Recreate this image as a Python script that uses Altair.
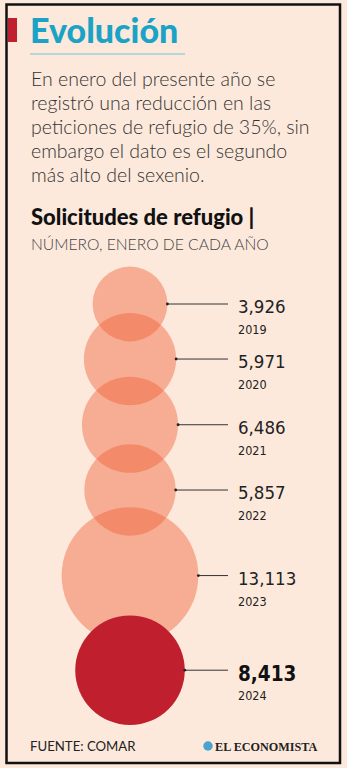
import altair as alt
import pandas as pd
import numpy as np

# ---- data ----
years = ["2019", "2020", "2021", "2022", "2023", "2024"]
values = [3926, 5971, 6486, 5857, 13113, 8413]
value_labels = ["3,926", "5,971", "6,486", "5,857", "13,113", "8,413"]
highlight = ["previo", "previo", "previo", "previo", "previo", "actual"]

title_text = "Evolución"
body_lines = [
    "En enero del presente año se",
    "registró una reducción en las",
    "peticiones de refugio de 35%, sin",
    "embargo el dato es el segundo",
    "más alto del sexenio.",
]
chart_title = "Solicitudes de refugio |"
chart_subtitle = "NÚMERO, ENERO DE CADA AÑO"
source_text = "FUENTE: COMAR"
brand_text = "EL ECONOMISTA"

# ---- layout ----
W, H = 347, 768
K = 0.597        # px per sqrt(unit): circle area proportional to value
OVERLAP = 28.5   # px overlap between consecutive circles
CX = 130
TOP = 304
BG = "#fde9dc"
COND = "DejaVu Sans Condensed, DejaVu Sans, sans-serif"
SANS = "Lato, Open Sans, sans-serif"

r = [K * np.sqrt(v) for v in values]
cy = [TOP]
for i in range(1, len(values)):
    cy.append(cy[-1] + r[i - 1] + r[i] - OVERLAP)

df = pd.DataFrame({
    "year": years,
    "value": values,
    "label": value_labels,
    "hl": highlight,
    "cy": cy,
    "edge": [CX + ri for ri in r],
})
dummy = pd.DataFrame({"a": [0]})

xs = alt.Scale(domain=[0, W], range=[0, W])
ys = alt.Scale(domain=[0, H], range=[0, H])
vmax = max(values)
size_scale = alt.Scale(type="linear", domain=[0, vmax], range=[0, (2 * K) ** 2 * vmax])

base = alt.Chart(df)

circles = base.mark_circle(strokeWidth=0).encode(
    x=alt.value(CX),
    y=alt.Y("cy:Q", scale=ys, axis=None),
    size=alt.Size("value:Q", scale=size_scale, legend=None),
    color=alt.Color("hl:N", scale=alt.Scale(domain=["previo", "actual"], range=["#ee6035", "#c0202e"]), legend=None),
    opacity=alt.Opacity("hl:N", scale=alt.Scale(domain=["previo", "actual"], range=[0.43, 1.0]), legend=None),
)

leaders = base.mark_rule(color="#333333", strokeWidth=1).encode(
    x=alt.X("edge:Q", scale=xs, axis=None),
    x2=alt.value(228),
    y=alt.Y("cy:Q", scale=ys, axis=None),
)

dots = base.mark_circle(size=8, color="#222222", opacity=1).encode(
    x=alt.X("edge:Q", scale=xs, axis=None),
    y=alt.Y("cy:Q", scale=ys, axis=None),
)

val_prev = base.transform_filter(alt.datum.hl == "previo").mark_text(
    align="left", baseline="alphabetic", font=COND, fontSize=18.5, color="#222222", dy=9
).encode(x=alt.value(238), y=alt.Y("cy:Q", scale=ys, axis=None), text="label:N")

val_cur = base.transform_filter(alt.datum.hl == "actual").mark_text(
    align="left", baseline="alphabetic", font=COND, fontSize=20.5, fontWeight="bold", color="#111111", dy=11
).encode(x=alt.value(238), y=alt.Y("cy:Q", scale=ys, axis=None), text="label:N")

year_txt = base.mark_text(
    align="left", baseline="alphabetic", font=COND, fontSize=12.5, color="#222222", dy=30
).encode(x=alt.value(238), y=alt.Y("cy:Q", scale=ys, axis=None), text="year:N")


def txt(s, x, y, **kw):
    return alt.Chart(dummy).mark_text(align="left", baseline="alphabetic", **kw).encode(
        x=alt.value(x), y=alt.value(y), text=alt.value(s)
    )


frame = alt.Chart(dummy).mark_rect(fillOpacity=0, stroke="#111111", strokeWidth=2.5).encode(
    x=alt.value(6.5), x2=alt.value(340), y=alt.value(4.5), y2=alt.value(763)
)
accent = alt.Chart(dummy).mark_rect(color="#c0202e").encode(
    x=alt.value(8), x2=alt.value(17), y=alt.value(18), y2=alt.value(42)
)
underline = alt.Chart(dummy).mark_rule(color="#6fc3d6", strokeWidth=1).encode(
    x=alt.value(30), x2=alt.value(185), y=alt.value(54)
)
title = txt(title_text, 30, 43, font=SANS, fontSize=34, fontWeight=900, color="#1ba3c6")
body = txt(body_lines, 31, 86, font=SANS, fontSize=19.5, fontWeight=300, color="#333333", lineHeight=24)
ctitle = txt(chart_title, 31, 225, font=SANS, fontSize=22, fontWeight=900, color="#111111")
csub = txt(chart_subtitle, 31, 250, font=SANS, fontSize=15.7, fontWeight=300, color="#444444")
source = txt(source_text, 30, 751, font=SANS, fontSize=13.2, color="#222222")
globe = alt.Chart(dummy).mark_circle(size=90, color="#4aa3cf", opacity=1).encode(
    x=alt.value(208), y=alt.value(746)
)
brand = txt(brand_text, 215, 751, font="Liberation Serif, DejaVu Serif, serif", fontSize=12.2,
            fontWeight="bold", color="#222222")

chart = alt.layer(
    accent, frame, underline, title, body, ctitle, csub,
    circles, leaders, dots, val_prev, val_cur, year_txt,
    source, globe, brand,
).properties(
    width=W, height=H, background=BG, padding=0,
    autosize=alt.AutoSizeParams(type="none"),
).configure_view(stroke=None)

chart.save("out.html", embed_options={"renderer": "svg", "actions": False})
